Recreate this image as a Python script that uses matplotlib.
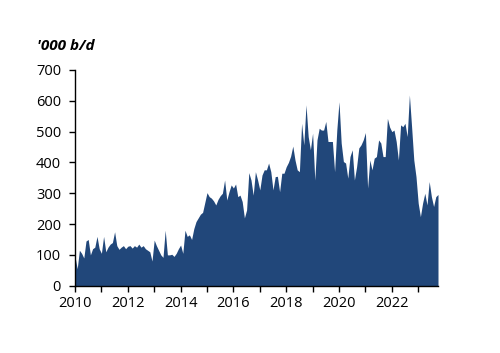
import numpy as np
import matplotlib
matplotlib.use("Agg")
import matplotlib.pyplot as plt

plt.rcParams['font.family'] = ['Open Sans', 'DejaVu Sans']

# monthly values, '000 b/d, Jan 2010 onwards
y2010 = [95, 55, 115, 105, 90, 145, 150, 100, 120, 125, 160, 120]
y2011 = [105, 160, 110, 125, 135, 140, 175, 130, 118, 125, 130, 120]
y2012 = [128, 130, 122, 130, 125, 135, 125, 130, 120, 115, 110, 80]
y2013 = [148, 130, 115, 100, 92, 180, 100, 100, 102, 95, 105, 120]
y2014 = [132, 105, 180, 160, 165, 150, 185, 208, 220, 232, 238, 270]
y2015 = [302, 289, 284, 275, 262, 280, 292, 300, 343, 278, 305, 327]
y2016 = [317, 330, 289, 294, 273, 220, 246, 367, 343, 294, 370, 343]
y2017 = [311, 359, 376, 376, 398, 370, 311, 354, 355, 305, 365, 365]
y2018 = [386, 400, 420, 453, 408, 376, 370, 527, 457, 587, 484, 441]
y2019 = [495, 343, 473, 511, 505, 505, 533, 468, 468, 468, 370, 505]
y2020 = [597, 463, 403, 398, 349, 419, 441, 343, 386, 447, 457, 473]
y2021 = [497, 317, 408, 376, 414, 419, 473, 463, 419, 419, 543, 515]
y2022 = [500, 505, 468, 408, 522, 516, 527, 484, 619, 516, 408, 354]
y2023 = [268, 224, 268, 300, 262, 338, 289, 257, 289, 296]

values = np.array(y2010 + y2011 + y2012 + y2013 + y2014 + y2015 + y2016 +
                  y2017 + y2018 + y2019 + y2020 + y2021 + y2022 + y2023)
dates = 2010 + np.arange(len(values)) / 12.0

year_ticks = list(range(2010, 2024))
year_labels = [str(y) if y % 2 == 0 else '' for y in year_ticks]
y_ticks = [0, 100, 200, 300, 400, 500, 600, 700]

fig = plt.figure(figsize=(5.0, 3.53), dpi=100)
ax = fig.add_axes([0.15, 0.1907, 0.726, 0.611])

ax.fill_between(dates, 0, values, color='#21477A', linewidth=0)

ax.set_xlim(2010, dates[-1])
ax.set_ylim(0, 700)
ax.set_xticks(year_ticks)
ax.set_xticklabels(year_labels)
ax.set_yticks(y_ticks)

for s in ['top', 'right']:
    ax.spines[s].set_visible(False)
for s in ['left', 'bottom']:
    ax.spines[s].set_linewidth(1.0)
    ax.spines[s].set_color('black')

ax.tick_params(direction='out', length=4, width=1, labelsize=10.5, colors='black')
ax.tick_params(axis='y', pad=6)

fig.text(0.074, 0.87, "'000 b/d", fontsize=11, fontweight='bold', fontstyle='italic',
         ha='left', va='center')

fig.savefig('out.png', dpi=100)
